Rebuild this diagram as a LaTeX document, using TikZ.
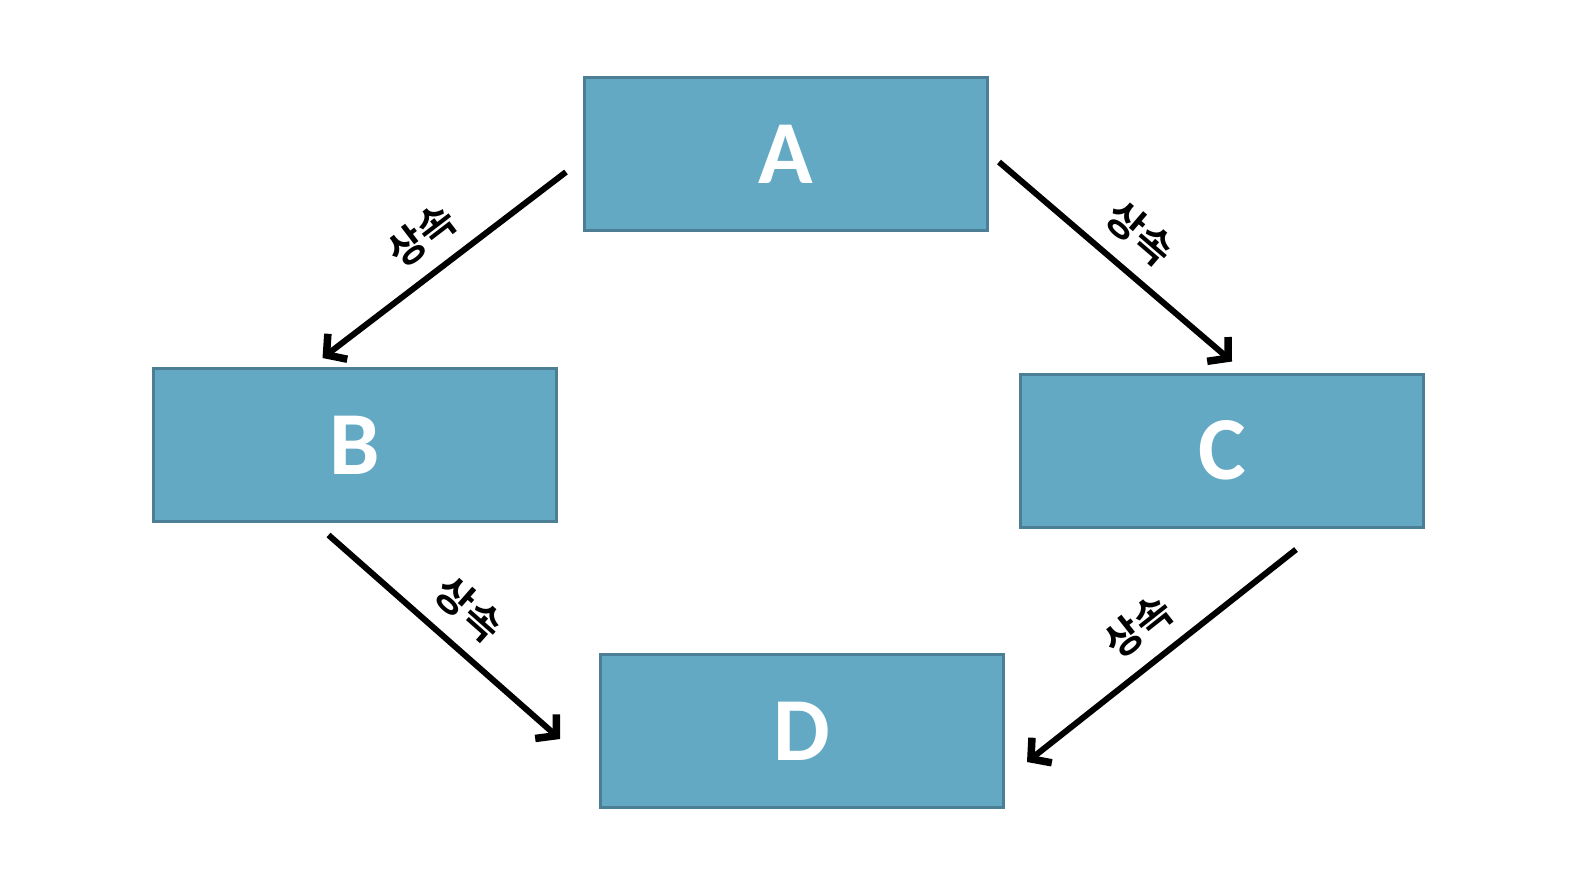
\documentclass[tikz,border=0pt]{standalone}
\usepackage{fontspec}
\setmainfont{Carlito}
\newfontfamily\krfont{Noto Sans CJK KR Bold}
\usetikzlibrary{arrows.meta}
\definecolor{boxfill}{HTML}{64A9C4}
\definecolor{boxline}{HTML}{4C7F95}
\begin{document}
\begin{tikzpicture}[x=1pt,y=-1pt,
  classbox/.style={draw=boxline, line width=3pt, fill=boxfill,
    minimum width=403pt, minimum height=153pt, inner sep=0pt,
    text=white, font=\fontsize{90}{96}\selectfont\bfseries},
  inherit/.style={line width=6pt, draw=black,
    -{Straight Barb[length=14pt,width=32pt,line width=7.5pt,line join=miter]}},
  rel/.style={sloped, above=16pt, inner sep=0pt,
    font=\krfont\fontsize{40}{44}\selectfont}]
\useasboundingbox (0,0) rectangle (1592,884);
\node[classbox] (A) at (786,154) {A};
\node[classbox] (B) at (354.5,445) {B};
\node[classbox] (C) at (1222,450.5) {C};
\node[classbox] (D) at (802,731) {D};
% inheritance arrows
\draw[inherit] ([shift={(-17,18)}]A.west) -- node[rel] {상속} ([shift={(-32,-9)}]B.north);
\draw[inherit] ([shift={(10,8)}]A.east) -- node[rel] {상속} ([shift={(10,-11)}]C.north);
\draw[inherit] ([shift={(-26,12)}]B.south) -- node[rel] {상속} ([shift={(-39,8)}]D.west);
\draw[inherit] ([shift={(74,21)}]C.south) -- node[rel] {상속} ([shift={(22,31)}]D.east);
\end{tikzpicture}
\end{document}
